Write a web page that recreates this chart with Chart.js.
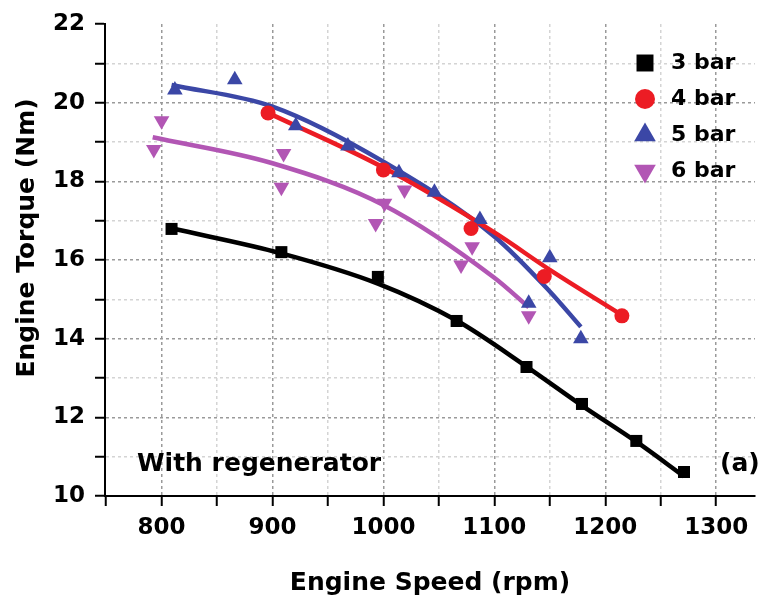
<!DOCTYPE html>
<html>
<head>
<meta charset="utf-8">
<script src="https://cdn.jsdelivr.net/npm/chart.js@4.4.0/dist/chart.umd.min.js"></script>
<style>
html, body { margin: 0; padding: 0; background: #fff; }
</style>
</head>
<body>
<canvas id="graph1" width="764" height="598"></canvas>
<script>
// measured points (rpm, Nm)
var speed3 = [809, 908, 995, 1066, 1129, 1179, 1228, 1271];
var torque3 = [16.79, 16.20, 15.57, 14.45, 13.28, 12.34, 11.40, 10.61];
var speed4 = [896, 1000, 1079, 1145, 1215];
var torque4 = [19.74, 18.29, 16.80, 15.58, 14.58];
var speed5 = [812, 866, 921, 968, 1014, 1046, 1087, 1131, 1150, 1178];
var torque5 = [20.32, 20.58, 19.41, 18.90, 18.22, 17.72, 17.03, 14.90, 16.06, 14.00];
var speed6 = [793, 800, 908, 910, 993, 1001, 1019, 1070, 1080, 1131];
var torque6 = [18.81, 19.54, 17.85, 18.71, 16.93, 17.44, 17.78, 15.87, 16.34, 14.58];

// fitted curves
var fitSpeed3 = [810, 908, 995, 1066, 1129, 1179, 1228, 1271];
var fitTorque3 = [16.80, 16.17, 15.40, 14.46, 13.29, 12.30, 11.38, 10.50];
var fitSpeed4 = [896, 1000, 1100, 1150, 1215];
var fitTorque4 = [19.74, 18.35, 16.70, 15.75, 14.60];
var fitSpeed5 = [809, 900, 1000, 1100, 1150, 1178];
var fitTorque5 = [20.45, 19.90, 18.50, 16.60, 15.20, 14.30];
var fitSpeed6 = [792, 900, 1000, 1100, 1131];
var fitTorque6 = [19.12, 18.46, 17.40, 15.55, 14.80];

var seriesNames = ['3 bar', '4 bar', '5 bar', '6 bar'];
var seriesColors = ['#000000', '#ec1c24', '#3b47a6', '#b256b4'];
var seriesStyles = ['rect', 'circle', 'triangle', 'triangle'];
var seriesRotation = [0, 0, 0, 180];
var seriesRadius = [8.5, 7.5, 9, 9];
var legendRadius = [12, 10, 12.5, 12.5];

var xMajorTicks = [800, 900, 1000, 1100, 1200, 1300];
var xMinorTicks = [750, 850, 950, 1050, 1150, 1250];
var yMajorTicks = [10, 12, 14, 16, 18, 20, 22];
var yMinorTicks = [11, 13, 15, 17, 19, 21];

var xTitle = 'Engine Speed (rpm)';
var yTitle = 'Engine Torque (Nm)';
var noteText = 'With regenerator';
var panelText = '(a)';

var FONT = '"DejaVu Sans", "Liberation Sans", Arial, sans-serif';

function toXY(xs, ys) {
    var out = [];
    for (var i = 0; i < xs.length; i++) out.push({x: xs[i], y: ys[i]});
    return out;
}

var pointSets = [toXY(speed3, torque3), toXY(speed4, torque4), toXY(speed5, torque5), toXY(speed6, torque6)];
var fitSets = [toXY(fitSpeed3, fitTorque3), toXY(fitSpeed4, fitTorque4), toXY(fitSpeed5, fitTorque5), toXY(fitSpeed6, fitTorque6)];

var datasets = [];
fitSets.forEach(function (pts, i) {
    datasets.push({
        label: seriesNames[i] + ' fit',
        type: 'line',
        data: pts,
        borderColor: seriesColors[i],
        borderWidth: 4.5,
        pointRadius: 0,
        tension: 0.4,
        cubicInterpolationMode: 'monotone',
        fill: false,
        order: 10 + i
    });
});
pointSets.forEach(function (pts, i) {
    datasets.push({
        label: seriesNames[i],
        type: 'scatter',
        data: pts,
        backgroundColor: seriesColors[i],
        borderColor: seriesColors[i],
        borderWidth: 0,
        pointStyle: seriesStyles[i],
        rotation: seriesRotation[i],
        pointRadius: seriesRadius[i],
        showLine: false,
        order: i
    });
});

function drawMarker(ctx, style, rot, x, y, r, color) {
    ctx.save();
    ctx.fillStyle = color;
    ctx.beginPath();
    if (style === 'rect') {
        var s = r * Math.SQRT1_2;
        ctx.rect(x - s, y - s, 2 * s, 2 * s);
    } else if (style === 'circle') {
        ctx.arc(x, y, r, 0, Math.PI * 2);
    } else {
        var dir = rot === 180 ? -1 : 1;
        var half = r * Math.sqrt(3) / 2;
        ctx.moveTo(x, y - dir * r);
        ctx.lineTo(x - half, y + dir * r / 2);
        ctx.lineTo(x + half, y + dir * r / 2);
        ctx.closePath();
    }
    ctx.fill();
    ctx.restore();
}

var legendAndNotes = {
    id: 'legendAndNotes',
    afterDatasetsDraw: function (chart) {
        var ctx = chart.ctx;
        var area = chart.chartArea;
        ctx.save();
        ctx.font = 'bold 22px ' + FONT;
        ctx.fillStyle = '#000';
        ctx.textBaseline = 'middle';
        ctx.textAlign = 'left';
        for (var i = 0; i < seriesNames.length; i++) {
            var ly = area.top + 39 + i * 36;
            drawMarker(ctx, seriesStyles[i], seriesRotation[i], area.left + 540, ly, legendRadius[i], seriesColors[i]);
            ctx.fillText(seriesNames[i], area.left + 566, ly);
        }
        ctx.font = 'bold 25px ' + FONT;
        ctx.fillText(noteText, area.left + 32, area.bottom - 32);
        ctx.fillText(panelText, area.left + 615, area.bottom - 32);

        // y axis title, sits a little above the middle of the axis
        ctx.translate(27, area.top + 214);
        ctx.rotate(-Math.PI / 2);
        ctx.textAlign = 'center';
        ctx.fillText(yTitle, 0, 0);
        ctx.restore();
    }
};

var ctx = document.getElementById('graph1').getContext('2d');
var config = {
    data: {datasets: datasets},
    plugins: [legendAndNotes],
    options: {
        responsive: false,
        animation: false,
        layout: {padding: {top: 24, right: -9, left: 0, bottom: 0}},
        plugins: {legend: {display: false}, tooltip: {enabled: false}},
        scales: {
            x: {
                type: 'linear',
                min: 749,
                max: 1335,
                afterBuildTicks: function (scale) {
                    scale.ticks = xMinorTicks.concat(xMajorTicks).sort(function (a, b) { return a - b; })
                        .map(function (v) { return {value: v}; });
                },
                afterFit: function (scale) { scale.height = 102; },
                ticks: {
                    autoSkip: false,
                    maxRotation: 0,
                    padding: 8,
                    color: '#000',
                    font: {family: FONT, size: 23, weight: 'bold'},
                    callback: function (v) { return xMajorTicks.indexOf(v) >= 0 ? String(v) : ''; }
                },
                grid: {
                    color: function (c) {
                        if (!c.tick || c.tick.value === 750) return 'rgba(0,0,0,0)';
                        return xMajorTicks.indexOf(c.tick.value) >= 0 ? '#9a9a9a' : '#d4d4d4';
                    },
                    lineWidth: 1.5,
                    tickColor: '#000',
                    tickWidth: 2,
                    tickLength: 10
                },
                border: {display: true, color: '#000', width: 2, dash: [3, 3]},
                title: {
                    display: true,
                    text: xTitle,
                    color: '#000',
                    font: {family: FONT, size: 25, weight: 'bold'},
                    padding: {top: 14, bottom: 0}
                }
            },
            y: {
                type: 'linear',
                min: 10,
                max: 22,
                afterBuildTicks: function (scale) {
                    scale.ticks = yMinorTicks.concat(yMajorTicks).sort(function (a, b) { return a - b; })
                        .map(function (v) { return {value: v}; });
                },
                afterFit: function (scale) { scale.width = 105; },
                ticks: {
                    autoSkip: false,
                    padding: 10,
                    color: '#000',
                    font: {family: FONT, size: 23, weight: 'bold'},
                    callback: function (v) { return yMajorTicks.indexOf(v) >= 0 ? String(v) : ''; }
                },
                grid: {
                    color: function (c) {
                        if (!c.tick || c.tick.value === 10 || c.tick.value === 22) return 'rgba(0,0,0,0)';
                        return yMajorTicks.indexOf(c.tick.value) >= 0 ? '#9a9a9a' : '#d4d4d4';
                    },
                    lineWidth: 1.5,
                    tickColor: '#000',
                    tickWidth: 2,
                    tickLength: 10
                },
                border: {display: true, color: '#000', width: 2, dash: [3, 3]},
                title: {display: false}
            }
        }
    }
};
var graph1 = new Chart(ctx, config);
</script>
</body>
</html>
